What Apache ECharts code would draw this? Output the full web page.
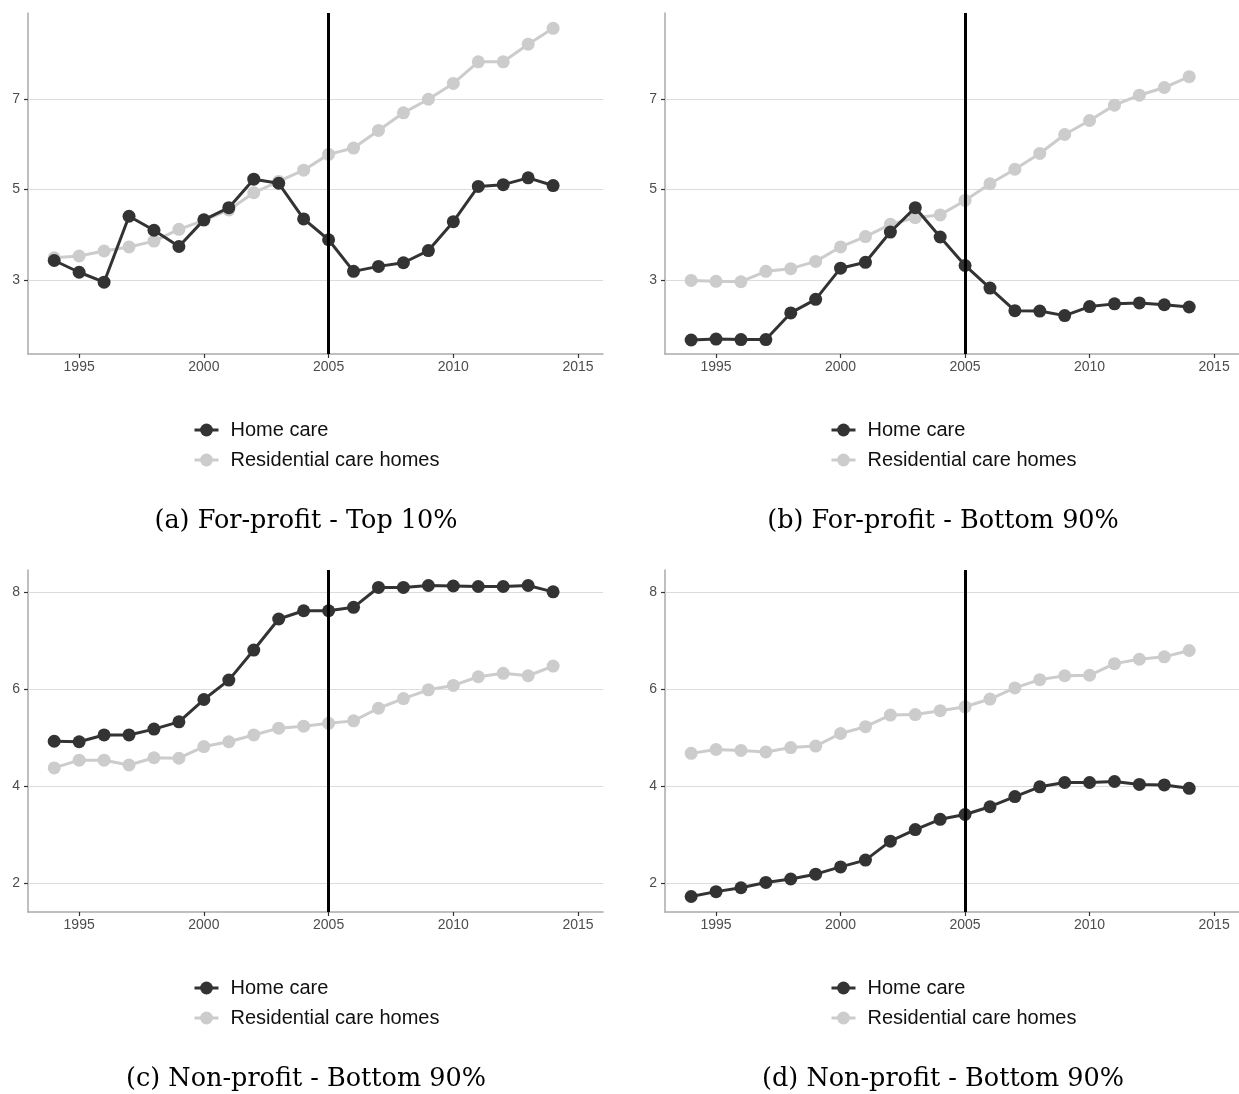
<!DOCTYPE html>
<html>
<head>
<meta charset="utf-8">
<script src="https://cdn.jsdelivr.net/npm/echarts@6/dist/echarts.min.js"></script>
<style>
  html, body { margin: 0; padding: 0; background: #fff; }
  #chart { width: 1239px; height: 1094px; }
</style>
</head>
<body>
<div id="chart"></div>
<script>
// Years on the x axis
const years = [1994, 1995, 1996, 1997, 1998, 1999, 2000, 2001, 2002, 2003, 2004,
               2005, 2006, 2007, 2008, 2009, 2010, 2011, 2012, 2013, 2014];

// (a) For-profit - Top 10%
const homeForProfitTop = [3.43, 3.17, 2.95, 4.41, 4.10, 3.74, 4.33, 4.60, 5.23, 5.14, 4.35,
                          3.89, 3.19, 3.30, 3.38, 3.65, 4.29, 5.07, 5.11, 5.26, 5.09];
const resForProfitTop  = [3.49, 3.53, 3.64, 3.73, 3.86, 4.12, 4.32, 4.55, 4.93, 5.18, 5.43,
                          5.78, 5.92, 6.31, 6.70, 7.00, 7.35, 7.83, 7.83, 8.22, 8.57];

// (b) For-profit - Bottom 90%
const homeForProfitBottom = [1.67, 1.69, 1.68, 1.68, 2.27, 2.57, 3.26, 3.39, 4.06, 4.60, 3.95,
                             3.32, 2.82, 2.32, 2.31, 2.21, 2.41, 2.47, 2.49, 2.45, 2.40];
const resForProfitBottom  = [2.99, 2.97, 2.96, 3.19, 3.25, 3.41, 3.73, 3.96, 4.23, 4.38, 4.44,
                             4.76, 5.13, 5.45, 5.80, 6.22, 6.53, 6.87, 7.09, 7.26, 7.50];

// (c) Non-profit - Bottom 90%
const homeNonProfitC = [4.93, 4.92, 5.06, 5.06, 5.18, 5.33, 5.79, 6.19, 6.81, 7.45, 7.62,
                        7.62, 7.69, 8.10, 8.10, 8.14, 8.13, 8.12, 8.12, 8.14, 8.01];
const resNonProfitC  = [4.38, 4.54, 4.54, 4.44, 4.59, 4.58, 4.82, 4.92, 5.06, 5.20, 5.24,
                        5.30, 5.35, 5.61, 5.81, 5.99, 6.08, 6.26, 6.33, 6.28, 6.48];

// (d) Non-profit - Bottom 90%
const homeNonProfitD = [1.73, 1.83, 1.91, 2.02, 2.09, 2.19, 2.34, 2.48, 2.87, 3.11, 3.32,
                        3.42, 3.58, 3.79, 3.99, 4.08, 4.08, 4.10, 4.04, 4.03, 3.96];
const resNonProfitD  = [4.68, 4.76, 4.74, 4.71, 4.80, 4.83, 5.09, 5.23, 5.47, 5.48, 5.56,
                        5.64, 5.80, 6.03, 6.20, 6.28, 6.29, 6.53, 6.62, 6.67, 6.80];

// Tick labels
const xTicks = [1995, 2000, 2005, 2010, 2015];
const yTicksTop = [3, 5, 7];
const yTicksBottom = [2, 4, 6, 8];

// Reform year marked with a vertical rule
const reformYear = 2005;

const seriesNames = ['Home care', 'Residential care homes'];
const captions = [
  '(a) For-profit - Top 10%',
  '(b) For-profit - Bottom 90%',
  '(c) Non-profit - Bottom 90%',
  '(d) Non-profit - Bottom 90%'
];

const DARK = '#333333';
const LIGHT = '#cccccc';
const sans = 'Liberation Sans, Arial, sans-serif';
const serif = 'DejaVu Serif, serif';

const panels = [
  { home: homeForProfitTop, res: resForProfitTop, yTicks: yTicksTop, yMin: 1.36, yMax: 8.91,
    left: 28, top: 13, height: 341, legendLeft: 193, legendTop: 420, capX: 306, capY: 521 },
  { home: homeForProfitBottom, res: resForProfitBottom, yTicks: yTicksTop, yMin: 1.36, yMax: 8.91,
    left: 665, top: 13, height: 341, legendLeft: 830, legendTop: 420, capX: 943, capY: 521 },
  { home: homeNonProfitC, res: resNonProfitC, yTicks: yTicksBottom, yMin: 1.41, yMax: 8.46,
    left: 28, top: 570, height: 342, legendLeft: 193, legendTop: 978, capX: 306, capY: 1079 },
  { home: homeNonProfitD, res: resNonProfitD, yTicks: yTicksBottom, yMin: 1.41, yMax: 8.46,
    left: 665, top: 570, height: 342, legendLeft: 830, legendTop: 978, capX: 943, capY: 1079 }
];

const toPairs = vals => years.map((y, k) => [y, vals[k]]);

const grid = [], xAxis = [], yAxis = [], series = [], legend = [], graphic = [];

panels.forEach((p, i) => {
  grid.push({ left: p.left, top: p.top, width: 575, height: p.height, containLabel: false });

  xAxis.push({
    type: 'value', gridIndex: i, min: 1992.95, max: 2016,
    axisLine: { show: true, lineStyle: { color: '#aaaaaa', width: 1.5 } },
    axisTick: { show: true, length: 4, customValues: xTicks, lineStyle: { color: '#333333', width: 1.2 } },
    axisLabel: {
      customValues: xTicks, color: '#4d4d4d', fontSize: 14, fontFamily: sans, margin: 6,
      formatter: v => String(v)
    },
    splitLine: { show: false }
  });

  yAxis.push({
    type: 'value', gridIndex: i, min: p.yMin, max: p.yMax,
    axisLine: { show: true, lineStyle: { color: '#aaaaaa', width: 1.5 } },
    axisTick: { show: true, length: 4, customValues: p.yTicks, lineStyle: { color: '#333333', width: 1.2 } },
    axisLabel: {
      customValues: p.yTicks, color: '#4d4d4d', fontSize: 14, fontFamily: sans, margin: 8,
      formatter: v => String(v)
    },
    splitLine: { show: false }
  });

  // Residential care homes (light), carrying the horizontal guide lines
  series.push({
    name: seriesNames[1], type: 'line', xAxisIndex: i, yAxisIndex: i,
    data: toPairs(p.res), z: 2,
    symbol: 'circle', symbolSize: 13, showSymbol: true,
    lineStyle: { color: LIGHT, width: 3 }, itemStyle: { color: LIGHT },
    markLine: {
      silent: true, symbol: 'none', z: 1, animation: false,
      label: { show: false },
      lineStyle: { color: '#dcdcdc', width: 1, type: 'solid' },
      data: p.yTicks.map(v => ({ yAxis: v }))
    }
  });

  // Home care (dark), carrying the reform-year rule
  series.push({
    name: seriesNames[0], type: 'line', xAxisIndex: i, yAxisIndex: i,
    data: toPairs(p.home), z: 3,
    symbol: 'circle', symbolSize: 13, showSymbol: true,
    lineStyle: { color: DARK, width: 3 }, itemStyle: { color: DARK },
    markLine: {
      silent: true, symbol: 'none', z: 6, animation: false,
      label: { show: false },
      lineStyle: { color: '#000000', width: 3, type: 'solid' },
      data: [{ xAxis: reformYear }]
    }
  });

  legend.push({
    orient: 'vertical', left: p.legendLeft, top: p.legendTop, padding: 0,
    itemGap: 10, itemWidth: 24, itemHeight: 16,
    data: seriesNames,
    selectedMode: false,
    lineStyle: { width: 3 },
    textStyle: { fontSize: 20, fontFamily: sans, color: '#111111', padding: [0, 0, 0, 7] }
  });

  graphic.push({
    type: 'text', x: p.capX, y: p.capY,
    style: {
      text: captions[i], font: '25.5px ' + serif, fill: '#000000',
      align: 'center', verticalAlign: 'middle'
    }
  });
});

const chart = echarts.init(document.getElementById('chart'), null, { renderer: 'canvas' });
chart.setOption({
  animation: false,
  backgroundColor: '#ffffff',
  grid, xAxis, yAxis, series, legend, graphic
});
</script>
</body>
</html>
